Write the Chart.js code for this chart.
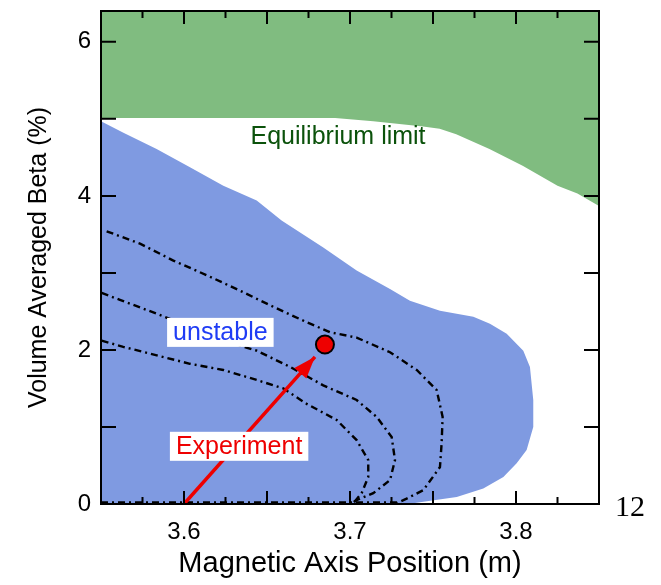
<!DOCTYPE html>
<html lang="en">
<head>
<meta charset="UTF-8" />
<title>Volume Averaged Beta vs Magnetic Axis Position</title>
<script src="https://cdn.jsdelivr.net/npm/chart.js"></script>
<style>
  html, body { margin: 0; padding: 0; background: #fff; }
</style>
</head>
<body>
<canvas id="grafico" width="661" height="585"></canvas>
<script>
// ticks
const xTickLabels = [3.6, 3.7, 3.8];
const xMajorTicks = [3.6, 3.65, 3.7, 3.75, 3.8];
const xMinorTicks = [3.575, 3.625, 3.675, 3.725, 3.775, 3.825];
const yTickLabels = [0, 2, 4, 6];
const yAllTicks = [1, 2, 3, 4, 5, 6];

// equilibrium limit (green region above this curve)
const limitX = [3.55, 3.60, 3.65, 3.691, 3.714, 3.744, 3.754, 3.764, 3.784, 3.804, 3.825, 3.837, 3.85];
const limitY = [5.01, 5.01, 5.01, 5.01, 4.97, 4.90, 4.87, 4.80, 4.61, 4.39, 4.13, 4.03, 3.87];

// unstable region outline (blue, closed down to beta = 0)
const unstableX = [3.55, 3.5635, 3.5835, 3.6036, 3.6237, 3.6438, 3.6588, 3.6639, 3.6839, 3.704, 3.7241, 3.7361,
  3.7542, 3.7743, 3.7843, 3.7944, 3.8044, 3.8084, 3.8104, 3.8104, 3.8064, 3.8004, 3.7924, 3.7803, 3.7643, 3.7442, 3.735, 3.85];
const unstableY = [4.97, 4.82, 4.61, 4.37, 4.13, 3.94, 3.68, 3.61, 3.33, 3.03, 2.79, 2.64,
  2.51, 2.43, 2.34, 2.21, 1.99, 1.78, 1.35, 1.00, 0.70, 0.53, 0.35, 0.20, 0.09, 0.03, 0, 0];

// dashed contours
const contourAX = [3.5534, 3.5735, 3.5936, 3.6137, 3.6337, 3.6538, 3.6739, 3.688, 3.704, 3.7241, 3.7402, 3.7522, 3.7558, 3.7552, 3.7542, 3.7442, 3.7341, 3.7281];
const contourAY = [3.54, 3.38, 3.16, 2.97, 2.77, 2.56, 2.36, 2.23, 2.16, 1.97, 1.74, 1.48, 1.13, 0.79, 0.48, 0.18, 0.07, 0.01];
const contourBX = [3.5504, 3.5614, 3.5836, 3.6036, 3.6237, 3.6438, 3.6639, 3.6839, 3.704, 3.7161, 3.7251, 3.7271, 3.7241, 3.714, 3.704, 3.701];
const contourBY = [2.74, 2.65, 2.47, 2.30, 2.12, 1.99, 1.78, 1.54, 1.35, 1.13, 0.87, 0.57, 0.31, 0.14, 0.05, 0.01];
const contourCX = [3.5504, 3.5634, 3.5836, 3.6036, 3.6237, 3.6438, 3.6598, 3.6739, 3.692, 3.704, 3.711, 3.711, 3.707, 3.702];
const contourCY = [2.12, 2.04, 1.93, 1.82, 1.74, 1.61, 1.50, 1.30, 1.09, 0.83, 0.57, 0.35, 0.14, 0.01];
const baseX = [3.55, 3.73];
const baseY = [0.02, 0.02];

// experiment
const experimentX = [3.6849];
const experimentY = [2.07];
const arrowX = [3.60, 3.6789];
const arrowY = [0, 1.91];

const toPts = (xs, ys) => xs.map((v, i) => ({ x: v, y: ys[i] }));

const contourStyle = {
    borderColor: '#000',
    borderWidth: 2.4,
    borderDash: [7, 4, 2, 4],
    pointRadius: 0,
    fill: false,
    order: 3
};

const etiquetas = [
    { text: 'Equilibrium limit', x: 3.6928, y: 4.77, color: '#0b520b', box: false },
    { text: 'unstable', x: 3.6219, y: 2.228, color: '#1f3cf5', box: true },
    { text: 'Experiment', x: 3.6332, y: 0.749, color: '#ee0000', box: true }
];

const decoraciones = {
    id: 'decoraciones',
    afterDatasetsDraw(chart) {
        const { ctx, chartArea: a, scales: { x, y } } = chart;
        ctx.save();

        // arrow head
        const x0 = x.getPixelForValue(arrowX[0]), y0 = y.getPixelForValue(arrowY[0]);
        const x1 = x.getPixelForValue(arrowX[1]), y1 = y.getPixelForValue(arrowY[1]);
        const ang = Math.atan2(y1 - y0, x1 - x0);
        const len = 22, half = 8;
        ctx.fillStyle = '#ee0000';
        ctx.beginPath();
        ctx.moveTo(x1, y1);
        ctx.lineTo(x1 - len * Math.cos(ang) + half * Math.sin(ang), y1 - len * Math.sin(ang) - half * Math.cos(ang));
        ctx.lineTo(x1 - len * Math.cos(ang) - half * Math.sin(ang), y1 - len * Math.sin(ang) + half * Math.cos(ang));
        ctx.closePath();
        ctx.fill();

        // text labels
        ctx.font = '25px "Liberation Sans", Arial, sans-serif';
        ctx.textAlign = 'center';
        ctx.textBaseline = 'middle';
        etiquetas.forEach(e => {
            const px = x.getPixelForValue(e.x), py = y.getPixelForValue(e.y);
            if (e.box) {
                const w = ctx.measureText(e.text).width + 12;
                ctx.fillStyle = '#fff';
                ctx.fillRect(px - w / 2, py - 14.5, w, 29);
            }
            ctx.fillStyle = e.color;
            ctx.fillText(e.text, px, py + 1);
        });

        // frame
        ctx.strokeStyle = '#000';
        ctx.lineWidth = 2;
        ctx.strokeRect(a.left, a.top, a.right - a.left, a.bottom - a.top);

        // inward ticks
        ctx.beginPath();
        xMajorTicks.concat(xMinorTicks).forEach(v => {
            const px = x.getPixelForValue(v);
            const l = xMajorTicks.includes(v) ? 13 : 7;
            ctx.moveTo(px, a.bottom); ctx.lineTo(px, a.bottom - l);
            ctx.moveTo(px, a.top); ctx.lineTo(px, a.top + l);
        });
        yAllTicks.forEach(v => {
            const py = y.getPixelForValue(v);
            ctx.moveTo(a.left, py); ctx.lineTo(a.left + 15, py);
            ctx.moveTo(a.right, py); ctx.lineTo(a.right - 15, py);
        });
        ctx.stroke();

        // page number
        ctx.font = '30px "Liberation Serif", "Times New Roman", serif';
        ctx.fillStyle = '#000';
        ctx.textAlign = 'center';
        ctx.fillText('12', 630, 508);
        ctx.restore();
    }
};

new Chart(document.getElementById('grafico'), {
    type: 'line',
    data: {
        datasets: [
            {
                data: toPts(experimentX, experimentY),
                showLine: false,
                pointRadius: 9,
                pointBackgroundColor: '#ee0000',
                pointBorderColor: '#000',
                pointBorderWidth: 2,
                order: 1
            },
            {
                data: toPts(arrowX, arrowY),
                borderColor: '#ee0000',
                borderWidth: 3.5,
                pointRadius: 0,
                fill: false,
                order: 2
            },
            Object.assign({ data: toPts(contourAX, contourAY) }, contourStyle),
            Object.assign({ data: toPts(contourBX, contourBY) }, contourStyle),
            Object.assign({ data: toPts(contourCX, contourCY) }, contourStyle),
            Object.assign({ data: toPts(baseX, baseY) }, contourStyle),
            {
                data: toPts(unstableX, unstableY),
                borderWidth: 0,
                borderColor: 'rgba(0,0,0,0)',
                backgroundColor: '#7f9ae1',
                pointRadius: 0,
                fill: 'origin',
                order: 4
            },
            {
                data: toPts(limitX, limitY),
                borderWidth: 0,
                borderColor: 'rgba(0,0,0,0)',
                backgroundColor: '#80bc80',
                pointRadius: 0,
                fill: 'end',
                order: 5
            }
        ]
    },
    options: {
        responsive: false,
        animation: false,
        layout: { padding: { left: 0, right: 62, top: 10, bottom: 0 } },
        plugins: { legend: { display: false }, tooltip: { enabled: false } },
        elements: { line: { tension: 0 } },
        scales: {
            x: {
                type: 'linear',
                min: 3.55,
                max: 3.85,
                grid: { display: false, drawTicks: false },
                border: { display: false },
                afterBuildTicks: s => { s.ticks = xTickLabels.map(v => ({ value: v })); },
                afterFit: s => { s.height = 81; s.paddingLeft = 0; s.paddingRight = 0; },
                ticks: {
                    padding: 14,
                    color: '#000',
                    maxRotation: 0,
                    font: { family: '"Liberation Sans", Arial, sans-serif', size: 24 },
                    callback: v => v.toFixed(1)
                },
                title: {
                    display: true,
                    text: 'Magnetic Axis Position (m)',
                    color: '#000',
                    padding: { top: 0, bottom: 4 },
                    font: { family: '"Liberation Sans", Arial, sans-serif', size: 29 }
                }
            },
            y: {
                min: 0,
                max: 6.4,
                grid: { display: false, drawTicks: false },
                border: { display: false },
                afterBuildTicks: s => { s.ticks = yTickLabels.map(v => ({ value: v })); },
                afterFit: s => { s.width = 101; s.paddingTop = 0; s.paddingBottom = 0; },
                ticks: {
                    padding: 10,
                    color: '#000',
                    font: { family: '"Liberation Sans", Arial, sans-serif', size: 24 }
                },
                title: {
                    display: true,
                    text: 'Volume Averaged Beta (%)',
                    color: '#000',
                    padding: { top: 24, bottom: 0 },
                    font: { family: '"Liberation Sans", Arial, sans-serif', size: 25 }
                }
            }
        }
    },
    plugins: [decoraciones]
});
</script>
</body>
</html>
